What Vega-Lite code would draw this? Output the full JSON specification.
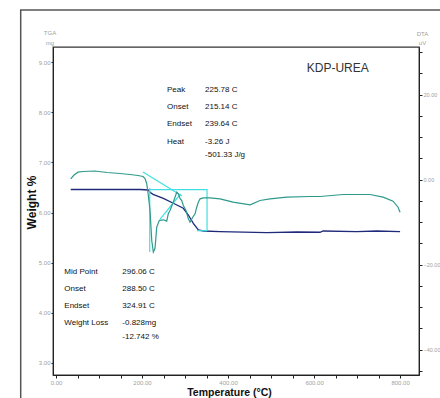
{
  "$schema": "https://vega.github.io/schema/vega-lite/v6.json",
  "width": 366,
  "height": 328,
  "autosize": {"type": "none"},
  "padding": {"left": 53, "top": 47, "right": 21, "bottom": 23},
  "background": "white",
  "config": {"view": {"stroke": "#333", "strokeWidth": 1.3}, "font": "Liberation Sans"},
  "datasets": {
    "dta": [
      {"T": 34.2, "D": 0.16}, {"T": 41.9, "D": 1.06}, {"T": 51.2, "D": 1.72}, {"T": 62.8, "D": 1.88},
      {"T": 90.7, "D": 2.0}, {"T": 118.6, "D": 1.65}, {"T": 148.8, "D": 1.41}, {"T": 172.1, "D": 1.18},
      {"T": 190.7, "D": 0.94}, {"T": 202.3, "D": 0.71}, {"T": 207.0, "D": 0.24}, {"T": 210.9, "D": -0.94},
      {"T": 214.7, "D": -3.76}, {"T": 218.6, "D": -7.29}, {"T": 222.6, "D": -14.35}, {"T": 226.3, "D": -17.1},
      {"T": 230.2, "D": -16.2}, {"T": 234.2, "D": -11.2}, {"T": 240.2, "D": -9.65}, {"T": 249.5, "D": -9.48},
      {"T": 257.4, "D": -9.8}, {"T": 261.2, "D": -8.0}, {"T": 265.1, "D": -7.29}, {"T": 271.4, "D": -5.65},
      {"T": 276.7, "D": -4.16}, {"T": 280.7, "D": -2.99}, {"T": 284.4, "D": -3.36}, {"T": 288.4, "D": -4.47},
      {"T": 292.3, "D": -4.94}, {"T": 296.0, "D": -6.12}, {"T": 302.3, "D": -7.29}, {"T": 307.7, "D": -9.25},
      {"T": 311.6, "D": -10.05}, {"T": 317.9, "D": -8.87}, {"T": 323.3, "D": -8.07}, {"T": 327.2, "D": -6.52},
      {"T": 330.9, "D": -5.34}, {"T": 334.9, "D": -4.54}, {"T": 342.6, "D": -4.31}, {"T": 358.1, "D": -4.31},
      {"T": 381.4, "D": -4.54}, {"T": 411.6, "D": -5.34}, {"T": 451.2, "D": -5.95}, {"T": 474.4, "D": -4.94},
      {"T": 497.7, "D": -4.54}, {"T": 536.5, "D": -4.16}, {"T": 590.7, "D": -4.0}, {"T": 614.0, "D": -4.0},
      {"T": 667.4, "D": -3.53}, {"T": 730.2, "D": -3.53}, {"T": 760.5, "D": -4.16}, {"T": 783.7, "D": -5.1},
      {"T": 795.3, "D": -6.52}, {"T": 800.0, "D": -7.69}
    ],
    "tga": [
      {"T": 34.2, "W": 6.459}, {"T": 195.3, "W": 6.459}, {"T": 214.7, "W": 6.449}, {"T": 218.6, "W": 6.403},
      {"T": 225.6, "W": 6.363}, {"T": 249.5, "W": 6.283}, {"T": 272.8, "W": 6.184}, {"T": 296.0, "W": 6.084},
      {"T": 307.7, "W": 5.95}, {"T": 319.3, "W": 5.785}, {"T": 330.9, "W": 5.651}, {"T": 342.6, "W": 5.631},
      {"T": 381.4, "W": 5.617}, {"T": 490.0, "W": 5.598}, {"T": 559.8, "W": 5.611}, {"T": 614.0, "W": 5.606},
      {"T": 621.0, "W": 5.631}, {"T": 699.3, "W": 5.617}, {"T": 745.8, "W": 5.631}, {"T": 800.0, "W": 5.617}
    ],
    "cyan": [
      {"seg": "a", "o": 1, "T": 202.3, "W": 6.807}, {"seg": "a", "o": 2, "T": 293.0, "W": 6.329},
      {"seg": "b", "o": 1, "T": 217.9, "W": 6.489}, {"seg": "b", "o": 2, "T": 217.9, "W": 5.213},
      {"seg": "c", "o": 1, "T": 217.9, "W": 6.455}, {"seg": "c", "o": 2, "T": 351.2, "W": 6.455}, {"seg": "c", "o": 3, "T": 351.2, "W": 5.637},
      {"seg": "d", "o": 1, "T": 327.9, "W": 5.637}, {"seg": "d", "o": 2, "T": 351.2, "W": 5.637},
      {"seg": "e", "o": 1, "T": 241.2, "W": 5.857}, {"seg": "e", "o": 2, "T": 289.5, "W": 6.369}
    ],
    "notes": [
      {"T": 258.1, "W": 8.442, "label": "Peak"}, {"T": 346.5, "W": 8.442, "label": "225.78 C"},
      {"T": 258.1, "W": 8.097, "label": "Onset"}, {"T": 346.5, "W": 8.097, "label": "215.14 C"},
      {"T": 258.1, "W": 7.758, "label": "Endset"}, {"T": 346.5, "W": 7.758, "label": "239.64 C"},
      {"T": 258.1, "W": 7.411, "label": "Heat"}, {"T": 346.5, "W": 7.411, "label": "-3.26 J"},
      {"T": 346.5, "W": 7.146, "label": "-501.33 J/g"},
      {"T": 19.3, "W": 4.82, "label": "Mid Point"}, {"T": 154.2, "W": 4.82, "label": "296.06 C"},
      {"T": 19.3, "W": 4.475, "label": "Onset"}, {"T": 154.2, "W": 4.475, "label": "288.50 C"},
      {"T": 19.3, "W": 4.137, "label": "Endset"}, {"T": 154.2, "W": 4.137, "label": "324.91 C"},
      {"T": 19.3, "W": 3.792, "label": "Weight Loss"}, {"T": 154.2, "W": 3.792, "label": "-0.828mg"},
      {"T": 154.2, "W": 3.525, "label": "-12.742 %"}
    ],
    "head": [{"T": 655, "W": 8.874, "label": "KDP-UREA"}],
    "unit": [{"T": -14, "W": 9.578, "label": "TGA"}, {"T": -14, "W": 9.379, "label": "mg"}],
    "frame": [{"T": -82.1, "T2": 1000, "W": 10.036, "W2": 1}]
  },
  "encoding": {
    "x": {
      "field": "T", "type": "quantitative",
      "scale": {"domain": [-7, 844], "nice": false, "zero": false},
      "axis": {
        "values": [0, 50, 100, 150, 200, 250, 300, 350, 400, 450, 500, 550, 600, 650, 700, 750, 800],
        "labelExpr": "datum.value % 200 === 0 ? format(datum.value, '.2f') : ''",
        "title": "Temperature (°C)",
        "titleFontSize": 10.5, "titleFontWeight": "bold", "titleColor": "#111",
        "titleX": 176, "titleY": 17, "titleBaseline": "middle", "titleAlign": "center",
        "domainColor": "#222", "tickColor": "#222", "tickSize": 3,
        "labelColor": "#a0a0a0", "labelFontSize": 6, "labelPadding": 1,
        "grid": false, "labelFlush": false, "labelOverlap": false
      }
    }
  },
  "layer": [
    {
      "data": {"name": "frame"},
      "mark": {"type": "rect", "fill": null, "fillOpacity": 0, "stroke": "#555", "strokeWidth": 1.5, "clip": false},
      "encoding": {
        "x2": {"field": "T2"},
        "y": {"field": "W", "type": "quantitative", "scale": {"domain": [2.76, 9.3], "nice": false, "zero": false}, "axis": null},
        "y2": {"field": "W2"}
      }
    },
    {
      "data": {"name": "tga"},
      "mark": {"type": "line", "color": "#1f2a7a", "strokeWidth": 1.3},
      "encoding": {
        "y": {
          "field": "W", "type": "quantitative",
          "scale": {"domain": [2.76, 9.3], "nice": false, "zero": false},
          "axis": {
            "orient": "left",
            "values": [3, 4, 5, 6, 7, 8, 9], "format": ".2f",
            "labelColor": "#a0a0a0", "labelFontSize": 6, "labelPadding": 1,
            "tickSize": 2, "tickColor": "#222", "domainColor": "#222", "grid": false,
            "title": "Weight %", "titleFontSize": 12, "titleFontWeight": "bold", "titleColor": "#111",
            "titleAngle": -90, "titleX": -22, "titleY": 155, "titleAlign": "center", "titleBaseline": "middle"
          }
        }
      }
    },
    {
      "data": {"name": "cyan"},
      "mark": {"type": "line", "color": "#40e0e0", "strokeWidth": 1.2},
      "encoding": {
        "y": {"field": "W", "type": "quantitative", "scale": {"domain": [2.76, 9.3], "nice": false, "zero": false}, "axis": null},
        "detail": {"field": "seg"},
        "order": {"field": "o", "type": "quantitative"}
      }
    },
    {
      "data": {"name": "notes"},
      "mark": {"type": "text", "align": "left", "baseline": "middle", "fontSize": 8, "color": "#111", "clip": false},
      "encoding": {
        "y": {"field": "W", "type": "quantitative", "scale": {"domain": [2.76, 9.3], "nice": false, "zero": false}, "axis": null},
        "text": {"field": "label"}
      }
    },
    {
      "data": {"name": "head"},
      "mark": {"type": "text", "align": "center", "baseline": "middle", "fontSize": 12, "color": "#333", "clip": false},
      "encoding": {
        "y": {"field": "W", "type": "quantitative", "scale": {"domain": [2.76, 9.3], "nice": false, "zero": false}, "axis": null},
        "text": {"field": "label"}
      }
    },
    {
      "data": {"name": "unit"},
      "mark": {"type": "text", "align": "center", "baseline": "middle", "fontSize": 6, "color": "#a0a0a0", "clip": false},
      "encoding": {
        "y": {"field": "W", "type": "quantitative", "scale": {"domain": [2.76, 9.3], "nice": false, "zero": false}, "axis": null},
        "text": {"field": "label"}
      }
    },
    {
      "data": {"name": "dta"},
      "mark": {"type": "line", "color": "#2f9a8c", "strokeWidth": 1.2},
      "encoding": {
        "y": {
          "field": "D", "type": "quantitative",
          "scale": {"domain": [-46.0, 31.18], "nice": false, "zero": false},
          "axis": {
            "orient": "right",
            "values": [-45, -40, -35, -30, -25, -20, -15, -10, -5, 0, 5, 10, 15, 20, 25, 30],
            "labelExpr": "datum.value % 20 === 0 ? format(datum.value, '.2f') : ''",
            "labelColor": "#a0a0a0", "labelFontSize": 5.5, "labelPadding": 1,
            "tickSize": 3, "tickColor": "#222", "domainColor": "#222", "grid": false, "labelOverlap": false,
            "title": ["DTA", "uV"], "titleAngle": 0, "titleX": 3, "titleY": -17,
            "titleAlign": "center", "titleBaseline": "top", "titleFontSize": 6, "titleFontWeight": "normal",
            "titleColor": "#a0a0a0", "titleLineHeight": 9.5
          }
        }
      }
    }
  ],
  "resolve": {"scale": {"y": "independent"}, "axis": {"y": "independent"}}
}
